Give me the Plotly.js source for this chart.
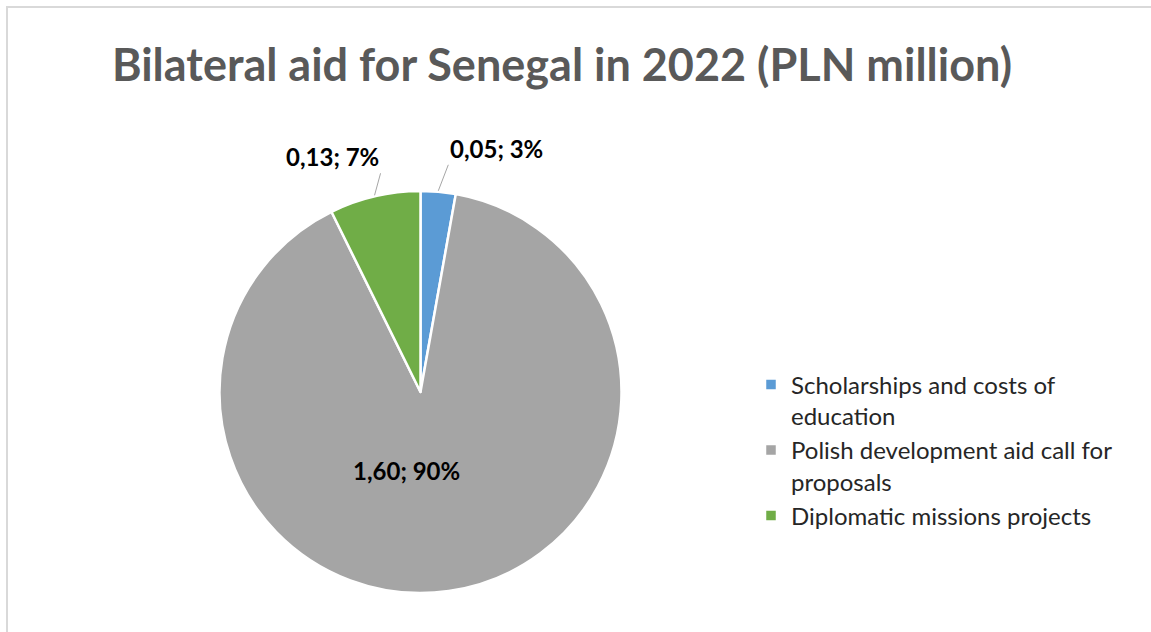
<!DOCTYPE html>
<html>
<head>
<meta charset="utf-8">
<script src="https://cdn.plot.ly/plotly-3.0.1.min.js"></script>
<style>
  html, body { margin: 0; padding: 0; background: #ffffff; overflow: hidden; }
  #frame { position: absolute; left: 6px; top: 6px; width: 1160px; height: 640px;
           border-left: 2px solid #d9d9d9; border-top: 2px solid #d9d9d9; }
  #chart { position: absolute; left: 0; top: 0; width: 1151px; height: 632px; }
</style>
</head>
<body>
<div id="frame"></div>
<div id="chart"></div>
<script>
// ---- data ----
const categories = ['Scholarships and costs of<br>education', 'Polish development aid call for<br>proposals', 'Diplomatic missions projects'];
const values = [0.05, 1.60, 0.13];
const colors = ['#5b9bd5', '#a5a5a5', '#70ad47'];

// ---- geometry ----
const W = 1151, H = 632;
const cx = 420.5, cy = 392, R = 201;
const FONT = 'Lato, "Open Sans", sans-serif';

const total = values.reduce((a, b) => a + b, 0);
const fmt = (v) => v.toFixed(2).replace('.', ',') + '; ' + Math.round(v / total * 100) + '%';

const trace = {
  type: 'pie',
  labels: categories,
  values: values,
  sort: false,
  direction: 'clockwise',
  rotation: 0,
  marker: { colors: colors, line: { color: '#ffffff', width: 2.5 } },
  textinfo: 'none',
  hoverinfo: 'label+value+percent',
  domain: { x: [(cx - R) / W, (cx + R) / W], y: [(H - cy - R) / H, (H - cy + R) / H] },
  showlegend: true
};

// data labels: leader lines for the small slices, inside label for the large one
const labelStyle = [
  { kind: 'leader', ax: 10, ay: -26, xa: 'left' },
  { kind: 'inside', dx: -14, dy: 78 },
  { kind: 'leader', ax: 6, ay: -22, xa: 'right' }
];
const labelFont = { family: FONT, size: 24, color: '#000000', weight: 'bold' };
const annotations = [];
let cum = 0;
values.forEach((v, i) => {
  const mid = (cum + v / 2) / total * 2 * Math.PI;
  cum += v;
  const s = labelStyle[i];
  if (s.kind === 'inside') {
    annotations.push({
      xref: 'paper', yref: 'paper', x: (cx + s.dx) / W, y: 1 - (cy + s.dy) / H,
      text: fmt(v), showarrow: false, xanchor: 'center', yanchor: 'middle', font: labelFont
    });
    return;
  }
  const hx = cx + (R + 1) * Math.sin(mid);
  const hy = cy - (R + 1) * Math.cos(mid);
  annotations.push({
    xref: 'paper', yref: 'paper', x: hx / W, y: 1 - hy / H,
    text: fmt(v), showarrow: true, arrowhead: 0, arrowwidth: 1, arrowcolor: '#a6a6a6',
    ax: s.ax, ay: s.ay, xanchor: s.xa, yanchor: 'bottom', standoff: 0,
    font: labelFont
  });
});

const layout = {
  width: W, height: H,
  margin: { l: 0, r: 0, t: 0, b: 0 },
  paper_bgcolor: 'rgba(0,0,0,0)',
  plot_bgcolor: 'rgba(0,0,0,0)',
  separators: ', ',
  title: {
    text: '<b>Bilateral aid for Senegal in 2022 (PLN million)</b>',
    x: 562 / W, xanchor: 'center', xref: 'container',
    y: 1 - 65 / H, yanchor: 'middle', yref: 'container',
    font: { family: FONT, size: 45, color: '#595959' }
  },
  legend: {
    x: 751 / W, xanchor: 'left', y: 1 - 450 / H, yanchor: 'middle',
    valign: 'top',
    font: { family: FONT, size: 24, color: '#262626' },
    itemwidth: 30, tracegroupgap: 0, bgcolor: 'rgba(0,0,0,0)'
  },
  annotations: annotations
};

Plotly.newPlot('chart', [trace], layout, { displayModeBar: false, staticPlot: true });
</script>
</body>
</html>
